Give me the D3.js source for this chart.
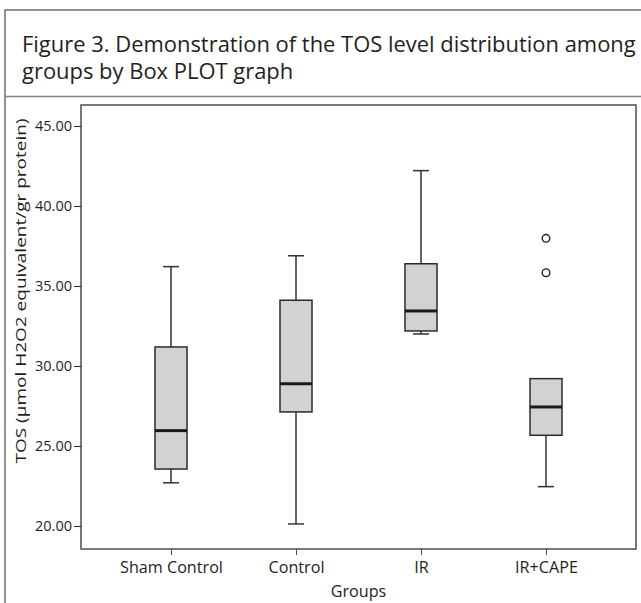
<!DOCTYPE html>
<html>
<head>
<meta charset="utf-8">
<script src="https://cdn.jsdelivr.net/npm/d3@7/dist/d3.min.js"></script>
<style>
  html, body { margin: 0; padding: 0; background: #fff; }
  svg { display: block; }
  text { font-family: "Open Sans", "Noto Sans", sans-serif; fill: #231f20; }
</style>
</head>
<body>
<svg id="chart" width="641" height="603"></svg>
<script>
// ---- data ----
const groups = ["Sham Control", "Control", "IR", "IR+CAPE"];
const whiskerLow  = [22.70, 20.13, 32.00, 22.46];
const q1          = [23.56, 27.13, 32.19, 25.67];
const medians     = [25.96, 28.89, 33.44, 27.44];
const q3          = [31.19, 34.11, 36.39, 29.21];
const whiskerHigh = [36.21, 36.89, 42.21, 29.21];
const outlierGroups = ["IR+CAPE", "IR+CAPE"];
const outlierValues = [37.98, 35.83];
const yTicks = [20, 25, 30, 35, 40, 45];
const titleLines = ["Figure 3. Demonstration of the TOS level distribution among",
                    "groups by Box PLOT graph"];
const yLabel = "TOS (\u00b5mol H2O2 equivalent/gr protein)";
const xLabel = "Groups";

// ---- helpers ----
function fitFont(sel, targetWidth, base) {
  sel.style("font-size", base + "px");
  const w = sel.node().getComputedTextLength();
  const fs = base * targetWidth / w;
  sel.style("font-size", fs + "px");
  return fs;
}

// ---- layout ----
const svg = d3.select("#chart");
const plot = { left: 81, right: 636, top: 105, bottom: 549 };

// outer frame
svg.append("path")
  .attr("d", `M5,603 L5,10 L641,10`)
  .attr("fill", "none").attr("stroke", "#6d6e70").attr("stroke-width", 1.5);
svg.append("line")
  .attr("x1", 5).attr("x2", 641).attr("y1", 96.5).attr("y2", 96.5)
  .attr("stroke", "#808285").attr("stroke-width", 1.5);

// title
const t1 = svg.append("text").attr("x", 22).attr("y", 52).text(titleLines[0]);
const titleFs = fitFont(t1, 614, 20);
svg.append("text").attr("x", 22).attr("y", 79).style("font-size", titleFs + "px").text(titleLines[1]);

// scales
const y = d3.scaleLinear()
  .domain([20 - (plot.bottom - 526) / 16, 45 + (126 - plot.top) / 16])
  .range([plot.bottom, plot.top]);
const x = d3.scalePoint().domain(groups).range([plot.left, plot.right]).padding(0.72);

// plot frame
svg.append("rect")
  .attr("x", plot.left).attr("y", plot.top)
  .attr("width", plot.right - plot.left).attr("height", plot.bottom - plot.top)
  .attr("fill", "none").attr("stroke", "#4d4d4f").attr("stroke-width", 1.5);

// y axis
const yAxis = svg.append("g")
  .attr("transform", `translate(${plot.left},0)`)
  .call(d3.axisLeft(y).tickValues(yTicks).tickFormat(d3.format(".2f")).tickSize(7).tickPadding(2));
yAxis.select(".domain").remove();
yAxis.selectAll("line").attr("stroke", "#231f20");
yAxis.selectAll("text").style("font-size", "14.5px").style("font-family", "'Open Sans', sans-serif").attr("fill", "#231f20");

// x axis
const xAxis = svg.append("g")
  .attr("transform", `translate(0,${plot.bottom})`)
  .call(d3.axisBottom(x).tickSize(6).tickPadding(7));
xAxis.select(".domain").remove();
xAxis.selectAll("line").attr("stroke", "#4d4d4f");
const xTickText = xAxis.selectAll("text").style("font-family", "'Open Sans', sans-serif").attr("fill", "#231f20");
const xFs = fitFont(xTickText.filter(d => d === "Sham Control"), 103, 14);
xTickText.style("font-size", xFs + "px");

// axis labels
svg.append("text")
  .attr("transform", `translate(26,291) rotate(-90)`)
  .attr("text-anchor", "middle")
  .style("font-size", "15px")
  .attr("textLength", 345)
  .attr("lengthAdjust", "spacingAndGlyphs")
  .text(yLabel);
svg.append("text")
  .attr("x", (x("IR") + x("Control")) / 2).attr("y", 597)
  .attr("text-anchor", "middle")
  .style("font-size", xFs + "px")
  .text(xLabel);

// boxes
const boxW = 32, capW = 16;
const g = svg.append("g");
groups.forEach((grp, i) => {
  const cx = x(grp);
  g.append("line").attr("x1", cx).attr("x2", cx)
    .attr("y1", y(q3[i])).attr("y2", y(whiskerHigh[i]))
    .attr("stroke", "#333").attr("stroke-width", 1.5);
  g.append("line").attr("x1", cx).attr("x2", cx)
    .attr("y1", y(q1[i])).attr("y2", y(whiskerLow[i]))
    .attr("stroke", "#333").attr("stroke-width", 1.5);
  if (whiskerHigh[i] > q3[i]) {
    g.append("line").attr("x1", cx - capW / 2).attr("x2", cx + capW / 2)
      .attr("y1", y(whiskerHigh[i])).attr("y2", y(whiskerHigh[i]))
      .attr("stroke", "#333").attr("stroke-width", 1.5);
  }
  if (whiskerLow[i] < q1[i]) {
    g.append("line").attr("x1", cx - capW / 2).attr("x2", cx + capW / 2)
      .attr("y1", y(whiskerLow[i])).attr("y2", y(whiskerLow[i]))
      .attr("stroke", "#333").attr("stroke-width", 1.5);
  }
  g.append("rect")
    .attr("x", cx - boxW / 2).attr("y", y(q3[i]))
    .attr("width", boxW).attr("height", y(q1[i]) - y(q3[i]))
    .attr("fill", "#d1d2d4").attr("stroke", "#2b2b2b").attr("stroke-width", 1.5);
  g.append("line").attr("x1", cx - boxW / 2).attr("x2", cx + boxW / 2)
    .attr("y1", y(medians[i])).attr("y2", y(medians[i]))
    .attr("stroke", "#1a1a1a").attr("stroke-width", 3);
});

// outliers
outlierValues.forEach((v, i) => {
  g.append("circle")
    .attr("cx", x(outlierGroups[i])).attr("cy", y(v)).attr("r", 3.8)
    .attr("fill", "#fff").attr("stroke", "#231f20").attr("stroke-width", 1.4);
});
</script>
</body>
</html>
